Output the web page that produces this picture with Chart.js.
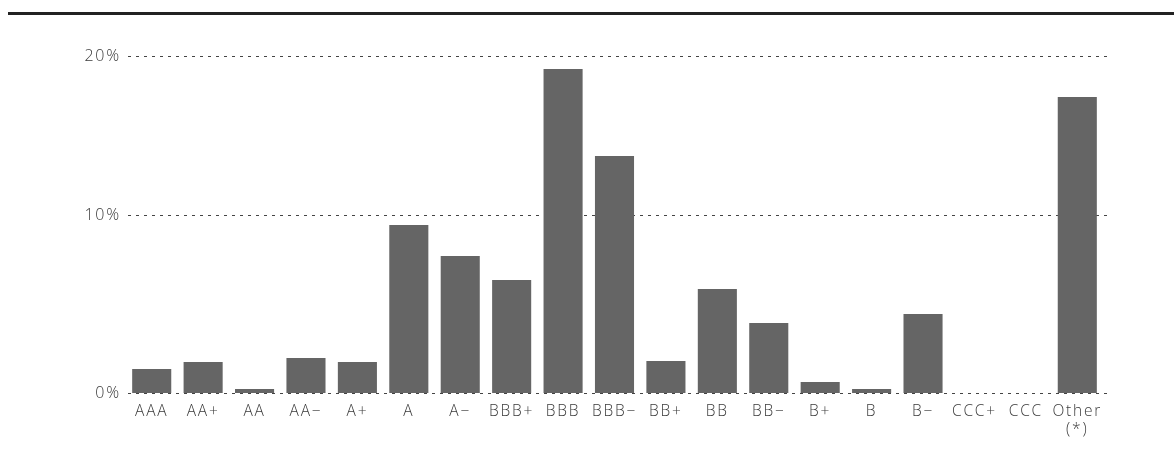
<!DOCTYPE html>
<html>
<head>
<meta charset="utf-8">
<script src="https://cdn.jsdelivr.net/npm/chart.js@4"></script>
<style>
  html, body { margin: 0; padding: 0; background: #fff; }
  #wrap { position: relative; width: 1174px; height: 460px; }
  canvas { display: block; }
</style>
</head>
<body>
<div id="wrap"><canvas id="c" width="1174" height="460"></canvas></div>
<script>
// Rating buckets along the x axis
const ratings = ['AAA', 'AA+', 'AA', 'AA\u2212', 'A+', 'A', 'A\u2212', 'BBB+', 'BBB', 'BBB\u2212',
                 'BB+', 'BB', 'BB\u2212', 'B+', 'B', 'B\u2212', 'CCC+', 'CCC', ['Other', '(*)']];

// Share of portfolio per rating, in percent
const shares = [1.42, 1.84, 0.24, 2.08, 1.84, 9.97, 8.13, 6.71, 19.23, 14.07,
                1.90, 6.17, 4.15, 0.65, 0.24, 4.69, 0, 0, 17.57];

// Y-axis gridline positions and their labels
const yTickValues = [0, 10.56, 20];
const yTickLabels = ['0%', '10%', '20%'];

const FONT = '"Open Sans", "Noto Sans", "DejaVu Sans", sans-serif';
const TEXT = '#3a3a3a';

// Dotted horizontal gridlines, running slightly past the plot on the right
const dottedGrid = {
  id: 'dottedGrid',
  beforeDatasetsDraw(chart) {
    const { ctx, chartArea, scales } = chart;
    ctx.save();
    ctx.strokeStyle = '#444';
    ctx.lineWidth = 1;
    ctx.setLineDash([3, 5]);
    yTickValues.forEach(v => {
      const y = Math.round(scales.y.getPixelForValue(v)) + 0.5;
      ctx.beginPath();
      ctx.moveTo(chartArea.left + 2, y);
      ctx.lineTo(chartArea.right + 8, y);
      ctx.stroke();
    });
    ctx.restore();
  }
};

// Heavy rule along the top edge
const topRule = {
  id: 'topRule',
  afterDraw(chart) {
    const { ctx } = chart;
    ctx.save();
    ctx.fillStyle = '#222';
    ctx.fillRect(8, 12, 1166, 3);
    ctx.restore();
  }
};

// Spaced-out lettering for all chart text
const spacing = {
  id: 'spacing',
  beforeInit(chart) { chart.ctx.letterSpacing = '1.8px'; },
  beforeDraw(chart) { chart.ctx.letterSpacing = '1.8px'; }
};

new Chart(document.getElementById('c'), {
  type: 'bar',
  data: {
    labels: ratings,
    datasets: [{
      data: shares,
      backgroundColor: '#656565',
      borderWidth: 0,
      categoryPercentage: 0.76,
      barPercentage: 1.0
    }]
  },
  options: {
    responsive: false,
    animation: false,
    devicePixelRatio: 1,
    layout: { padding: { top: 56, right: 71, bottom: 0, left: 0 } },
    plugins: { legend: { display: false }, tooltip: { enabled: false } },
    scales: {
      x: {
        grid: { display: false, drawTicks: false },
        border: { display: false },
        ticks: {
          color: TEXT,
          font: { family: FONT, size: 15.5, weight: 300, lineHeight: 1.15 },
          padding: 10,
          maxRotation: 0,
          autoSkip: false
        },
        afterFit(s) { s.height = 67; }
      },
      y: {
        min: 0,
        max: 20,
        grid: { display: false, drawTicks: false },
        border: { display: false },
        afterBuildTicks(s) { s.ticks = yTickValues.map(v => ({ value: v })); },
        ticks: {
          color: TEXT,
          font: { family: FONT, size: 16, weight: 300 },
          padding: 5,
          callback: (v, i) => yTickLabels[i]
        },
        afterFit(s) { s.width = 126; }
      }
    }
  },
  plugins: [spacing, dottedGrid, topRule]
});
</script>
</body>
</html>
